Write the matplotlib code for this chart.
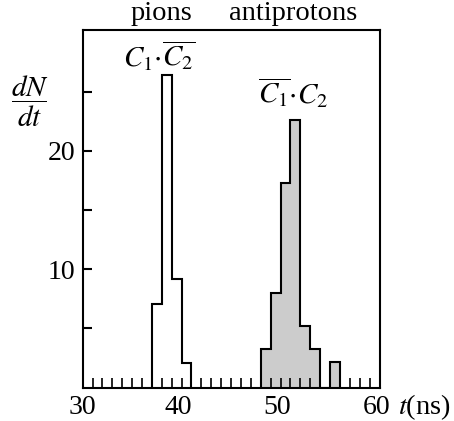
import numpy as np
import matplotlib
matplotlib.use("Agg")
import matplotlib.pyplot as plt
import matplotlib.transforms as mtransforms

plt.rcParams['font.family'] = ['Liberation Serif', 'DejaVu Serif']
plt.rcParams['mathtext.fontset'] = 'stix'

# histogram data (1 ns bins)
pion_edges = [37, 38, 39, 40, 41]
pion_counts = [7.1, 26.4, 9.2, 2.1]

pbar_edges = [48, 49, 50, 51, 52, 53, 54, 55, 56]
pbar_counts = [3.25, 8.0, 17.3, 22.6, 5.2, 3.3, 0.0, 2.2]

x_major = [30, 40, 50, 60]
y_major = [5, 10, 15, 20, 25]
y_labels = ['', '10', '', '20', '']

fig = plt.figure(figsize=(4.54, 4.21), dpi=100)
ax = fig.add_axes([0.182, 0.079, 0.654, 0.850])

ax.stairs(pion_counts, pion_edges, fill=False, edgecolor='black', linewidth=1.5)
ax.stairs(pbar_counts, pbar_edges, fill=True, facecolor='#cccccc',
          edgecolor='black', linewidth=1.5)

ax.set_xlim(30, 60)
ax.set_ylim(0, 30.2)

ax.set_xticks(x_major)
ax.set_xticks(np.arange(31, 60), minor=True)
ax.set_yticks(y_major)
ax.set_yticklabels(y_labels)
ax.tick_params(axis='x', which='both', direction='in', length=7.5, width=1.2,
               labelsize=20, pad=5)
ax.tick_params(axis='y', direction='in', length=6.5, width=1.5, labelsize=20, pad=5)
for s in ax.spines.values():
    s.set_linewidth(1.5)

# the x numbers sit a little left of their ticks in the original
shift = mtransforms.ScaledTranslation(-3 / 100, 0, fig.dpi_scale_trans)
for lab in ax.get_xticklabels()[1:]:
    lab.set_transform(lab.get_transform() + shift)

# texts
fig.text(161 / 454, 1 - 14 / 421, 'pions', ha='center', va='center', fontsize=20.5)
fig.text(293 / 454, 1 - 14 / 421, 'antiprotons', ha='center', va='center',
         fontsize=20.5)
fig.text(159 / 454, 1 - 56 / 421, r'$C_1{\cdot}\overline{C_2}$', ha='center',
         va='center', fontsize=21)
fig.text(293 / 454, 1 - 93 / 421, r'$\overline{C_1}{\cdot}C_2$', ha='center',
         va='center', fontsize=21)
fig.text(30 / 454, 1 - 101 / 421, r'$\dfrac{dN}{dt}$', ha='center', va='center',
         fontsize=21)
fig.text(424 / 454, 1 - 407 / 421, r'$t$(ns)', ha='center', va='center', fontsize=20.5)

fig.savefig('out.png', dpi=100)
